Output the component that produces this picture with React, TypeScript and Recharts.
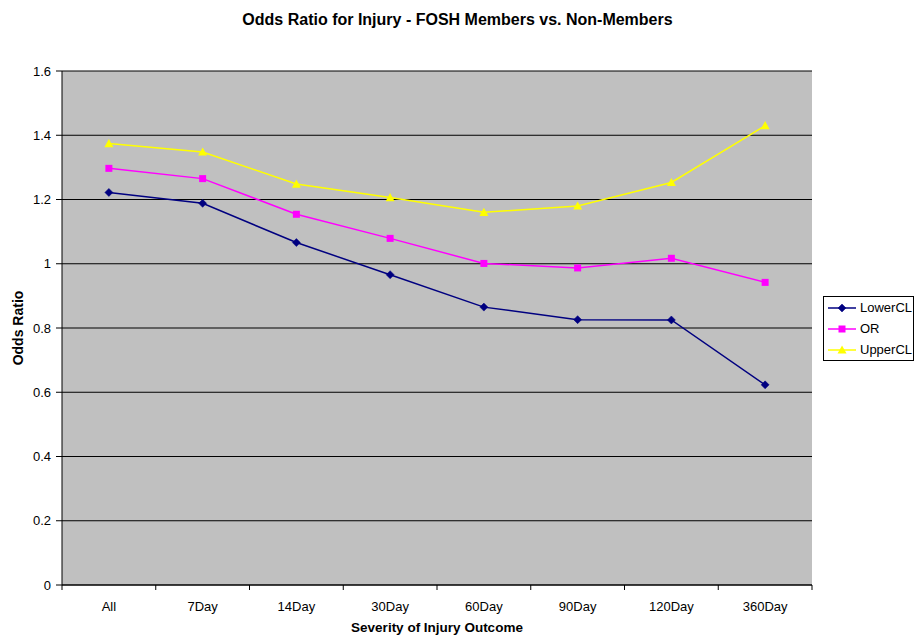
import React from "react";
import { LineChart, Line, XAxis, YAxis, CartesianGrid, Legend, Label } from "recharts";

const categories = ["All", "7Day", "14Day", "30Day", "60Day", "90Day", "120Day", "360Day"];
const lowerCL = [1.222, 1.188, 1.066, 0.966, 0.865, 0.826, 0.825, 0.623];
const oddsRatio = [1.297, 1.265, 1.154, 1.079, 1.001, 0.987, 1.017, 0.942];
const upperCL = [1.374, 1.348, 1.248, 1.206, 1.16, 1.18, 1.253, 1.43];
const yTicks = [0, 0.2, 0.4, 0.6, 0.8, 1, 1.2, 1.4, 1.6];

const data = categories.map((c, i) => ({
  cat: c,
  LowerCL: lowerCL[i],
  OR: oddsRatio[i],
  UpperCL: upperCL[i],
}));

const W = 915;
const H = 637;
const M = { top: 71, right: 103, bottom: 0, left: 0 };
const Y_W = 62;
const X_H = 52;
const PLOT_W = W - M.left - M.right - Y_W;
const BAND = PLOT_W / categories.length;
const FONT = "'Liberation Sans', Arial, sans-serif";

const COLORS = { LowerCL: "#000080", OR: "#FF00FF", UpperCL: "#FFFF00" };

function Diamond({ cx, cy, fill }: any) {
  if (cx == null || cy == null) return null;
  const r = 4;
  return <path d={`M${cx},${cy - r}L${cx + r},${cy}L${cx},${cy + r}L${cx - r},${cy}Z`} fill={fill} stroke={fill} strokeWidth={0.5} />;
}
function Square({ cx, cy, fill }: any) {
  if (cx == null || cy == null) return null;
  const r = 3.5;
  return <rect x={cx - r} y={cy - r} width={r * 2} height={r * 2} fill={fill} />;
}
function Triangle({ cx, cy, fill }: any) {
  if (cx == null || cy == null) return null;
  const r = 4.5;
  return <path d={`M${cx},${cy - r}L${cx + r},${cy + r * 0.8}L${cx - r},${cy + r * 0.8}Z`} fill={fill} />;
}

const MARKERS: Record<string, any> = { LowerCL: Diamond, OR: Square, UpperCL: Triangle };

// category ticks sit on band edges (Excel style), labels in the middle
function XTick({ x, y, payload, index }: any) {
  const left = x - BAND / 2;
  return (
    <g>
      <line x1={left} x2={left} y1={y} y2={y + 5} stroke="#000" />
      {index === categories.length - 1 && <line x1={x + BAND / 2} x2={x + BAND / 2} y1={y} y2={y + 5} stroke="#000" />}
      <text x={x} y={y + 26} textAnchor="middle" fontSize={13} fontFamily={FONT} fill="#000">
        {payload.value}
      </text>
    </g>
  );
}

function LegendBox({ payload }: any) {
  return (
    <div style={{ border: "1px solid #000", background: "#fff", width: 91, boxSizing: "border-box" }}>
      {payload.map((p: any) => {
        const Mk = MARKERS[p.value];
        return (
          <div key={p.value} style={{ display: "flex", alignItems: "center", height: 21, fontFamily: FONT, fontSize: 13 }}>
            <svg width={32} height={12} style={{ marginLeft: 3, flexShrink: 0 }}>
              <line x1={1} x2={29} y1={6} y2={6} stroke={p.color} strokeWidth={1.5} />
              <Mk cx={15} cy={6} fill={p.color} />
            </svg>
            <span style={{ marginLeft: 1, whiteSpace: "nowrap" }}>{p.value}</span>
          </div>
        );
      })}
    </div>
  );
}

function YLabel({ viewBox }: any) {
  const cx = 18;
  const cy = viewBox.y + viewBox.height / 2;
  return (
    <text x={cx} y={cy} transform={`rotate(-90 ${cx} ${cy})`} textAnchor="middle" dominantBaseline="central"
      fontSize={14} fontWeight="bold" fontFamily={FONT} fill="#000">
      Odds Ratio
    </text>
  );
}

function XLabel({ viewBox }: any) {
  return (
    <text x={viewBox.x + viewBox.width / 2} y={632} textAnchor="middle"
      fontSize={13.5} fontWeight="bold" fontFamily={FONT} fill="#000">
      Severity of Injury Outcome
    </text>
  );
}

export default function App() {
  return (
    <div style={{ position: "absolute", left: 0, top: 0, width: W, height: H, background: "#fff" }}>
      <div style={{
        position: "absolute", left: 0, top: 11, width: W, textAlign: "center",
        fontFamily: FONT, fontWeight: "bold", fontSize: 16, color: "#000",
      }}>
        Odds Ratio for Injury - FOSH Members vs. Non-Members
      </div>
      <LineChart width={W} height={H} data={data} margin={M}>
        <CartesianGrid vertical={false} stroke="#000" fill="#C0C0C0" fillOpacity={1} />
        <XAxis dataKey="cat" scale="band" height={X_H} tickLine={false} tickSize={0} tickMargin={0}
          tick={<XTick />} interval={0} axisLine={{ stroke: "#000" }}>
          <Label content={<XLabel />} />
        </XAxis>
        <XAxis xAxisId="top" orientation="top" dataKey="cat" scale="band" height={0} tick={false} tickLine={false}
          axisLine={{ stroke: "#808080" }} />
        <YAxis domain={[0, 1.6]} ticks={yTicks} width={Y_W} tickSize={6} tickMargin={5}
          axisLine={{ stroke: "#000" }} tickLine={{ stroke: "#000" }}
          tick={{ fontSize: 13, fontFamily: FONT, fill: "#000" }}>
          <Label content={<YLabel />} />
        </YAxis>
        <YAxis yAxisId="right" orientation="right" domain={[0, 1.6]} width={0} tick={false} tickLine={false}
          axisLine={{ stroke: "#808080", strokeWidth: 2 }} />
        <Legend layout="vertical" align="center" verticalAlign="middle" content={<LegendBox />}
          wrapperStyle={{ left: 823, top: 296, width: 91, height: "auto" }} />
        {(["LowerCL", "OR", "UpperCL"] as const).map((k) => {
          const Mk = MARKERS[k];
          return (
            <Line key={k} dataKey={k} name={k} stroke={COLORS[k]} strokeWidth={1.5}
              dot={(p: any) => <Mk key={`${k}-${p.index}`} cx={p.cx} cy={p.cy} fill={COLORS[k]} />}
              activeDot={false} isAnimationActive={false} />
          );
        })}
      </LineChart>
    </div>
  );
}
